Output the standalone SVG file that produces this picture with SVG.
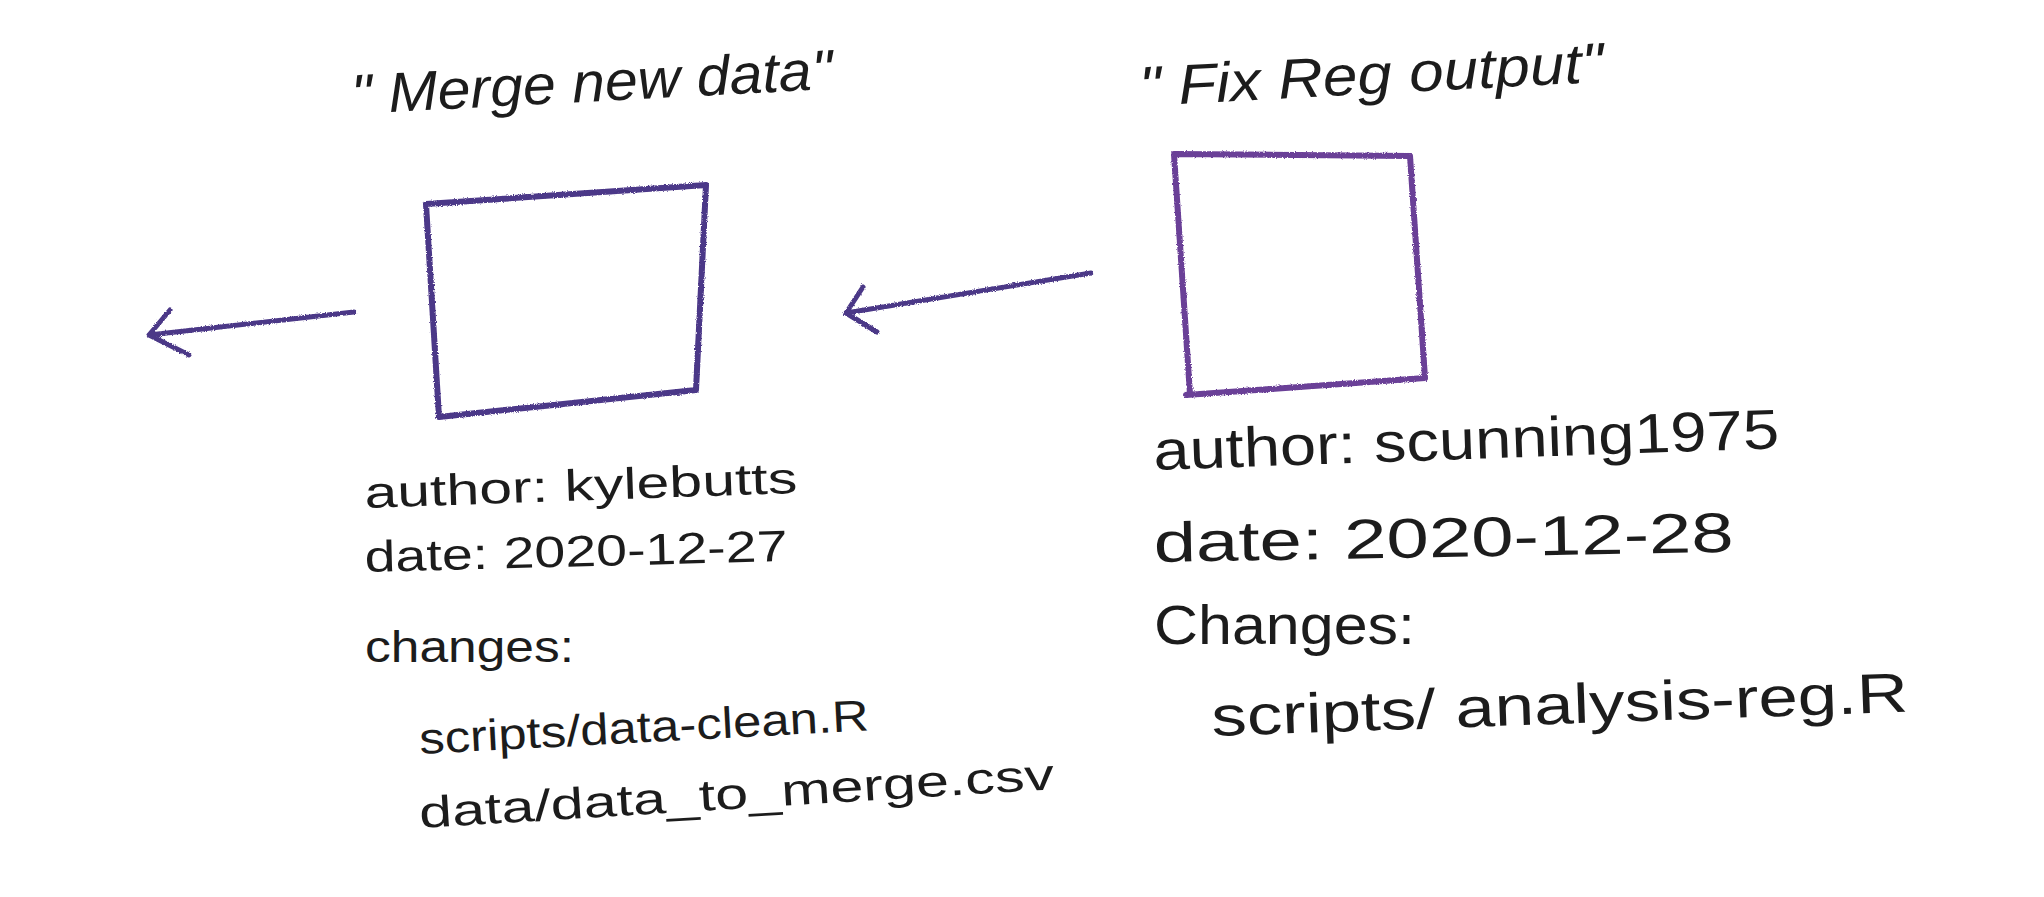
<svg xmlns="http://www.w3.org/2000/svg" width="2044" height="897" viewBox="0 0 2044 897">
<style>
  .bg { fill: #ffffff; }
  .box { fill: none; stroke-width: 6; stroke-linejoin: round; stroke-linecap: round; filter: url(#crayon); }
  .box1 { stroke: #4c3788; }
  .box2 { stroke: #6b3f97; }
  .conn { fill: none; stroke: #4b3887; stroke-width: 5; stroke-linecap: round; stroke-linejoin: round; filter: url(#crayon); }
  .t { font-family: "Liberation Sans", "DejaVu Sans", sans-serif; fill: #1c1c1c; }
  .title { font-size: 56px; font-style: italic; }
  .lt { font-size: 44px; }
  .rt { font-size: 56px; }
</style>
<defs>
  <filter id="crayon" x="-10%" y="-10%" width="120%" height="120%">
    <feTurbulence type="fractalNoise" baseFrequency="0.9" numOctaves="2" seed="3" result="n"/>
    <feDisplacementMap in="SourceGraphic" in2="n" scale="3" xChannelSelector="R" yChannelSelector="G"/>
  </filter>
</defs>
<rect class="bg" x="0" y="0" width="2044" height="897"/>

<g id="connectors">
  <path class="conn" d="M354 312 L149 335 M170 310 L149 335 L189 355"/>
  <path class="conn" d="M1091 273 L846 313 M863 287 L846 313 L877 332"/>
</g>

<g id="node-merge">
  <path class="box box1" d="M426 204 L706 185 L696 390 L439 417 Z"/>
  <text class="t title" x="352" y="114" textLength="482" lengthAdjust="spacingAndGlyphs" transform="rotate(-3 352 114)">" Merge new data"</text>
  <text class="t lt" x="365" y="508" textLength="433" lengthAdjust="spacingAndGlyphs" transform="rotate(-2 365 508)">author: kylebutts</text>
  <text class="t lt" x="365" y="572" textLength="423" lengthAdjust="spacingAndGlyphs" transform="rotate(-1.5 365 572)">date: 2020-12-27</text>
  <text class="t lt" x="365" y="662" textLength="209" lengthAdjust="spacingAndGlyphs">changes:</text>
  <text class="t lt" x="420" y="754" textLength="450" lengthAdjust="spacingAndGlyphs" transform="rotate(-3 420 754)">scripts/data-clean.R</text>
  <text class="t lt" x="420" y="828" textLength="636" lengthAdjust="spacingAndGlyphs" transform="rotate(-3.5 420 828)">data/data_to_merge.csv</text>
</g>

<g id="node-fix">
  <path class="box box2" d="M1174 154 L1410 156 L1425 378 L1186 395 L1190 394 Z"/>
  <text class="t title" x="1140" y="106" textLength="465" lengthAdjust="spacingAndGlyphs" transform="rotate(-3 1140 106)">" Fix Reg output"</text>
  <text class="t rt" x="1154" y="470" textLength="626" lengthAdjust="spacingAndGlyphs" transform="rotate(-2 1154 470)">author: scunning1975</text>
  <text class="t rt" x="1154" y="562" textLength="580" lengthAdjust="spacingAndGlyphs" transform="rotate(-1 1154 562)">date: 2020-12-28</text>
  <text class="t rt" x="1154" y="644" textLength="261" lengthAdjust="spacingAndGlyphs">Changes:</text>
  <text class="t rt" x="1212" y="736" textLength="697" lengthAdjust="spacingAndGlyphs" transform="rotate(-2 1212 736)">scripts/ analysis-reg.R</text>
</g>
</svg>
